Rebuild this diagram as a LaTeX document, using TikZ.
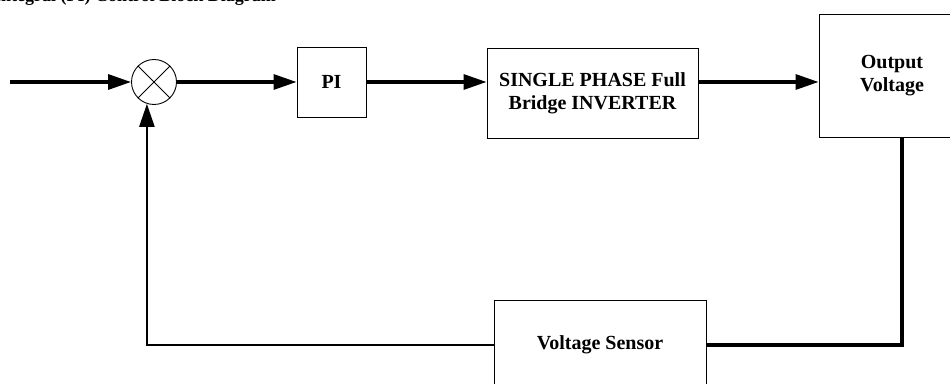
\documentclass[tikz,border=0pt]{standalone}
\usepackage{fontspec}
\setmainfont{Liberation Serif}
\usetikzlibrary{arrows.meta}
\begin{document}
\begin{tikzpicture}[x=1pt,y=1pt,
  blk/.style={draw,line width=0.9pt,rectangle,inner sep=0pt,font=\bfseries\fontsize{20}{23}\selectfont,align=center},
  sig/.style={line width=3.2pt,-{Triangle[length=23pt,width=15pt]}},
  fb/.style={line width=2.4pt},
  fbthick/.style={line width=3.6pt}]
\useasboundingbox (0,0) rectangle (950,383);
\clip (0,0) rectangle (950,383);
\node[anchor=base west,font=\bfseries\fontsize{18}{20}\selectfont,inner sep=0pt] (title) at (-6,381.5) {Integral (PI) Control Block Diagram};
\coordinate (in) at (10,301);
\node[draw,line width=0.9pt,circle,minimum size=45pt,inner sep=0pt] (sum) at (154,301) {};
\draw[line width=0.9pt] (sum.45) -- (sum.225) (sum.135) -- (sum.315);
\node[blk,minimum width=69pt,minimum height=70pt] (pi) at (331.5,301) {PI};
\node[blk,minimum width=211pt,minimum height=90pt] (inv) at (592.5,290) {SINGLE PHASE Full\\Bridge INVERTER};
\node[blk,minimum width=146pt,minimum height=123pt] (out) at (892,307.5) {Output\\Voltage};
\node[blk,minimum width=212pt,minimum height=90pt] (sen) at (600,38) {Voltage Sensor};
\draw[sig] (in) -- (sum.west);
\draw[sig] (sum.east) -- (pi.west);
\draw[sig] (pi.east) -- (inv.west |- pi.east);
\draw[sig] (inv.east |- pi.east) -- (out.west |- pi.east);
\coordinate (drop) at (902,0);
\draw[fbthick] (out.south -| drop) |- (sen.east);
\draw[fb,-{Triangle[length=23pt,width=15pt]}] (sen.west) -| (sum.252);
\end{tikzpicture}
\end{document}
